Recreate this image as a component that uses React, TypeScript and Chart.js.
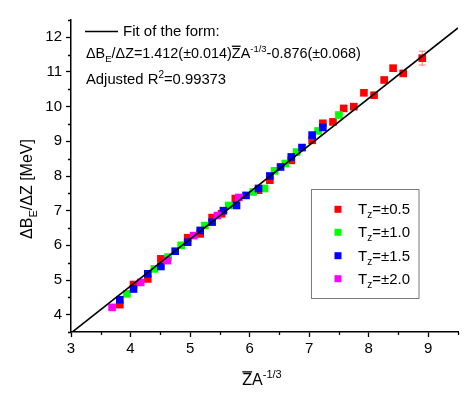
import React, { useEffect, useRef } from 'react';
import { Chart, registerables } from 'chart.js';

Chart.register(...registerables);

const FONT = '"Liberation Sans", Arial, Helvetica, sans-serif';

// Tz = ±0.5
const RED_X = [3.82, 4.05, 4.29, 4.51, 4.96, 5.17, 5.37, 5.53, 5.76, 6.15, 6.34, 6.70, 7.05, 7.23, 7.40, 7.58, 7.75, 7.92, 8.09, 8.26, 8.41, 8.58, 8.90];
const RED_Y = [4.29, 4.87, 5.03, 5.61, 6.22, 6.33, 6.80, 6.91, 7.35, 7.59, 7.88, 8.45, 9.03, 9.52, 9.56, 9.95, 10.00, 10.40, 10.33, 10.77, 11.11, 10.96, 11.40];
// Tz = ±1.0
const GREEN_X = [3.94, 4.40, 4.63, 4.85, 5.25, 5.65, 6.06, 6.25, 6.42, 6.60, 6.79, 7.15, 7.50];
const GREEN_Y = [4.60, 5.32, 5.66, 6.00, 6.57, 7.15, 7.54, 7.64, 8.15, 8.36, 8.69, 9.30, 9.76];
// Tz = ±1.5
const BLUE_X = [3.82, 4.05, 4.29, 4.51, 4.75, 4.96, 5.17, 5.37, 5.56, 5.78, 5.94, 6.15, 6.34, 6.52, 6.70, 6.88, 7.05, 7.23];
const BLUE_Y = [4.43, 4.74, 5.18, 5.39, 5.83, 6.09, 6.43, 6.67, 7.00, 7.15, 7.44, 7.64, 8.00, 8.26, 8.55, 8.82, 9.18, 9.40];
// Tz = ±2.0
const MAGENTA_X = [3.69, 4.17, 4.62, 5.06, 5.46, 5.82];
const MAGENTA_Y = [4.21, 4.93, 5.56, 6.28, 6.86, 7.38];

// error bar (last red point)
const ERR_X = [8.90];
const ERR_Y = [11.40];
const ERR_D = [0.20];

// fitted line as drawn
const FIT_X = [3.0, 9.5];
const FIT_Y = [3.47, 12.27];

const SERIES_LABELS = ['±0.5', '±1.0', '±1.5', '±2.0'];
const SERIES_COLORS = ['#ff0000', '#00ff00', '#0000ff', '#ff00ff'];

const X_MIN = 3, X_MAX = 9.5, Y_MIN = 3.5, Y_MAX = 12.5, STEP = 0.5;

type Seg = { t: string; size?: number; dy?: number; over?: boolean };

function measureRich(ctx: CanvasRenderingContext2D, segs: Seg[], base: number) {
  let w = 0;
  for (const s of segs) {
    ctx.font = `${s.size ?? base}px ${FONT}`;
    w += ctx.measureText(s.t).width;
  }
  return w;
}

function drawRich(ctx: CanvasRenderingContext2D, segs: Seg[], x: number, y: number, base: number) {
  let cx = x;
  ctx.textAlign = 'left';
  ctx.textBaseline = 'alphabetic';
  for (const s of segs) {
    const sz = s.size ?? base;
    ctx.font = `${sz}px ${FONT}`;
    const yy = y + (s.dy ?? 0);
    ctx.fillText(s.t, cx, yy);
    const w = ctx.measureText(s.t).width;
    if (s.over) ctx.fillRect(cx, yy - sz * 0.86, w, 1.3);
    cx += w;
  }
  return cx - x;
}

const isMajor = (v: number) => Math.abs(v - Math.round(v)) < 1e-6;

const decorPlugin = {
  id: 'decor',
  beforeDatasetsDraw(chart: any) {
    const ctx: CanvasRenderingContext2D = chart.ctx;
    const xs = chart.scales.x, ys = chart.scales.y;
    ctx.save();
    ctx.strokeStyle = 'rgba(255,90,90,0.8)';
    ctx.lineWidth = 1;
    for (let i = 0; i < ERR_X.length; i++) {
      const px = xs.getPixelForValue(ERR_X[i]);
      const p1 = ys.getPixelForValue(ERR_Y[i] - ERR_D[i]);
      const p2 = ys.getPixelForValue(ERR_Y[i] + ERR_D[i]);
      ctx.beginPath();
      ctx.moveTo(px, p1); ctx.lineTo(px, p2);
      ctx.moveTo(px - 3.5, p1); ctx.lineTo(px + 3.5, p1);
      ctx.moveTo(px - 3.5, p2); ctx.lineTo(px + 3.5, p2);
      ctx.stroke();
    }
    ctx.restore();
  },
  afterDraw(chart: any) {
    const ctx: CanvasRenderingContext2D = chart.ctx;
    const xs = chart.scales.x, ys = chart.scales.y;
    const area = chart.chartArea;
    ctx.save();
    // minor ticks
    ctx.strokeStyle = '#000';
    ctx.lineWidth = 1.3;
    ctx.beginPath();
    for (const t of xs.ticks) {
      if (isMajor(t.value)) continue;
      const px = Math.round(xs.getPixelForValue(t.value)) + 0.5;
      ctx.moveTo(px, area.bottom); ctx.lineTo(px, area.bottom + 3);
    }
    for (const t of ys.ticks) {
      if (isMajor(t.value)) continue;
      const py = Math.round(ys.getPixelForValue(t.value)) + 0.5;
      ctx.moveTo(area.left, py); ctx.lineTo(area.left - 3, py);
    }
    ctx.stroke();

    ctx.fillStyle = '#000';
    // annotation block
    ctx.lineWidth = 1.5;
    ctx.beginPath();
    ctx.moveTo(85, 31.5); ctx.lineTo(118, 31.5);
    ctx.stroke();
    drawRich(ctx, [{ t: 'Fit of the form:' }], 123, 36, 15);
    drawRich(ctx, [
      { t: 'ΔB' },
      { t: 'E', size: 9.5, dy: 4 },
      { t: '/ΔZ=1.412(±0.014)' },
      { t: 'Z', over: true },
      { t: 'A' },
      { t: '-1/3', size: 9.5, dy: -6 },
      { t: '-0.876(±0.068)' },
    ], 86, 58, 14.4);
    drawRich(ctx, [
      { t: 'Adjusted R' },
      { t: '2', size: 10, dy: -6 },
      { t: '=0.99373' },
    ], 86, 84, 14.8);

    // x title
    const xt: Seg[] = [{ t: 'Z', over: true }, { t: 'A' }, { t: '-1/3', size: 11, dy: -7 }];
    const xw = measureRich(ctx, xt, 16);
    drawRich(ctx, xt, 262 - xw / 2, 385, 16);

    // y title
    const yt: Seg[] = [{ t: 'ΔB' }, { t: 'E', size: 11, dy: 5 }, { t: '/ΔZ [MeV]' }];
    const yw = measureRich(ctx, yt, 16);
    ctx.save();
    ctx.translate(31.5, 189);
    ctx.rotate(-Math.PI / 2);
    drawRich(ctx, yt, -yw / 2, 0, 16);
    ctx.restore();

    // legend
    ctx.strokeStyle = '#7a7a7a';
    ctx.lineWidth = 1;
    ctx.strokeRect(311.5, 189.5, 107.5, 109);
    const rows = [209.3, 232.3, 255.7, 278.7];
    for (let i = 0; i < SERIES_LABELS.length; i++) {
      ctx.fillStyle = SERIES_COLORS[i];
      ctx.fillRect(334.5, rows[i] - 3.5, 7, 7);
      ctx.fillStyle = '#000';
      drawRich(ctx, [{ t: 'T' }, { t: 'z', size: 10, dy: 4 }, { t: '=' + SERIES_LABELS[i] }], 358, rows[i] + 5, 15);
    }
    ctx.restore();
  },
};

function toPts(xs: number[], ys: number[]) {
  return xs.map((x, i) => ({ x, y: ys[i] }));
}

export default function App() {
  const ref = useRef<HTMLCanvasElement | null>(null);
  useEffect(() => {
    document.body.style.margin = '0';
    const canvas = ref.current;
    if (!canvas) return;
    const markerDs = (label: string, xs: number[], ys: number[], color: string) => ({
      type: 'scatter' as const,
      label,
      data: toPts(xs, ys),
      pointStyle: 'rect' as const,
      pointRadius: 5.4,
      pointHoverRadius: 5.4,
      pointBackgroundColor: color,
      pointBorderWidth: 0,
      borderWidth: 0,
      backgroundColor: color,
      showLine: false,
    });
    const chart = new Chart(canvas, {
      type: 'scatter',
      data: {
        datasets: [
          {
            type: 'line',
            label: 'Fit',
            data: toPts(FIT_X, FIT_Y),
            borderColor: '#000',
            borderWidth: 1.6,
            pointRadius: 0,
            showLine: true,
            fill: false,
          } as any,
          markerDs('Tz=' + SERIES_LABELS[3], MAGENTA_X, MAGENTA_Y, SERIES_COLORS[3]),
          markerDs('Tz=' + SERIES_LABELS[2], BLUE_X, BLUE_Y, SERIES_COLORS[2]),
          markerDs('Tz=' + SERIES_LABELS[1], GREEN_X, GREEN_Y, SERIES_COLORS[1]),
          markerDs('Tz=' + SERIES_LABELS[0], RED_X, RED_Y, SERIES_COLORS[0]),
        ],
      },
      options: {
        animation: false,
        responsive: false,
        maintainAspectRatio: false,
        events: [],
        layout: { padding: { top: 20, right: 16, left: 0, bottom: 0 } },
        plugins: { legend: { display: false }, tooltip: { enabled: false }, title: { display: false } },
        scales: {
          x: {
            type: 'linear',
            min: X_MIN,
            max: X_MAX,
            afterFit: (s: any) => { s.height = 63; },
            border: { display: true, color: '#000', width: 1.5 },
            grid: {
              display: true,
              drawOnChartArea: false,
              drawTicks: true,
              tickLength: 5,
              tickWidth: 1.3,
              tickColor: (c: any) => (c.tick && isMajor(c.tick.value) ? '#000' : 'rgba(0,0,0,0)'),
            },
            ticks: {
              stepSize: STEP,
              autoSkip: false,
              maxRotation: 0,
              padding: 3,
              color: '#000',
              font: { family: FONT, size: 15 },
              callback: (v: any) => (isMajor(Number(v)) ? String(Math.round(Number(v))) : ''),
            },
          },
          y: {
            type: 'linear',
            min: Y_MIN,
            max: Y_MAX,
            afterFit: (s: any) => { s.width = 71; },
            border: { display: true, color: '#000', width: 1.5 },
            grid: {
              display: true,
              drawOnChartArea: false,
              drawTicks: true,
              tickLength: 5,
              tickWidth: 1.3,
              tickColor: (c: any) => (c.tick && isMajor(c.tick.value) ? '#000' : 'rgba(0,0,0,0)'),
            },
            ticks: {
              stepSize: STEP,
              autoSkip: false,
              padding: 4,
              color: '#000',
              font: { family: FONT, size: 15 },
              callback: (v: any) => (isMajor(Number(v)) ? String(Math.round(Number(v))) : ''),
            },
          },
        },
      },
      plugins: [decorPlugin],
    });
    return () => chart.destroy();
  }, []);
  return (
    <div style={{ position: 'relative', width: 474, height: 395, background: '#fff' }}>
      <canvas ref={ref} width={474} height={395} style={{ display: 'block', width: 474, height: 395 }} />
    </div>
  );
}
